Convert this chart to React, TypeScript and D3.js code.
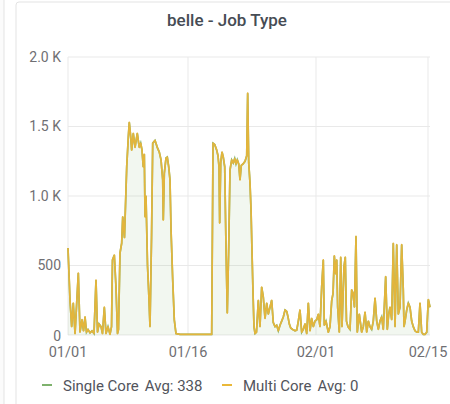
import React from 'react';
import * as d3 from 'd3';

// day offsets from 01/01 and job counts
const dayOffsets = [
  0, 0.25, 0.46, 0.66, 0.88, 1.29, 1.5, 1.75, 1.94, 2.13, 2.31, 2.5, 2.75, 3, 3.25, 3.5, 3.69, 3.88,
  4.13, 4.31, 4.54, 4.75, 5, 5.25, 5.44, 5.56, 5.79, 6, 6.19, 6.31, 6.5, 6.71, 6.84, 7.06, 7.34, 7.54,
  7.66, 7.84, 7.96, 8.16, 8.38, 8.66, 8.91, 9.09, 9.25, 9.41, 9.54, 9.63, 9.75, 9.94, 10.13, 10.25,
  10.44, 10.59, 10.88, 11.16, 11.41, 11.63, 11.84, 11.91, 12.04, 12.25, 12.41, 12.59, 12.75, 12.88,
  13.09, 13.29, 13.5, 14, 15.25, 16.5, 17.96, 18.13, 18.34, 18.59, 18.75, 18.88, 18.96, 19.09, 19.25,
  19.41, 19.59, 19.75, 19.91, 20.09, 20.25, 20.46, 20.66, 20.84, 21, 21.16, 21.34, 21.5, 21.66, 21.88,
  22.13, 22.34, 22.46, 22.59, 22.75, 22.88, 23, 23.13, 23.25, 23.38, 23.56, 23.79, 24, 24.21, 24.41,
  24.63, 24.84, 25.04, 25.25, 25.46, 25.66, 25.88, 26.09, 26.29, 26.5, 26.71, 26.91, 27.13, 27.34,
  27.5, 27.66, 27.84, 28.09, 28.38, 28.59, 28.79, 29, 29.21, 29.41, 29.63, 29.84, 30.04, 30.25, 30.46,
  30.66, 30.88, 31.09, 31.29, 31.5, 31.71, 31.91, 32.04, 32.25, 32.54, 32.75, 32.96, 33.13, 33.29,
  33.46, 33.59, 33.71, 33.91, 34.09, 34.25, 34.5, 34.66, 34.81, 35, 35.25, 35.46, 35.63, 35.81, 36,
  36.16, 36.41, 36.71, 36.91, 37.13, 37.34, 37.54, 37.75, 37.96, 38.16, 38.38, 38.59, 38.79, 39, 39.21,
  39.41, 39.71, 39.91, 40.09, 40.25, 40.46, 40.66, 40.88, 41.09, 41.29, 41.5, 41.71, 41.91, 42, 42.13,
  42.34, 42.54, 42.75, 42.96, 43.16, 43.38, 43.59, 43.79, 44, 44.21, 44.41, 44.63, 44.84, 45.04, 45.25,
];

const singleCore = [
  626, 250, 60, 230, 10, 446, 20, 110, 30, 130, 20, 40, 15, 30, 10, 395, 20, 80,
  60, 10, 200, 10, 60, 5, 60, 540, 575, 345, 10, 40, 590, 660, 850, 700, 1210, 1425,
  1530, 1425, 1330, 1450, 1350, 1450, 1350, 1380, 1330, 1210, 1300, 850, 1000, 500, 250, 60,
  700, 1380, 1400, 1350, 1316, 1260, 1115, 827, 1165, 1273, 1280, 1210, 1115, 755,
  395, 108, 10, 5, 5, 5, 5, 1380, 1370, 1330, 1290, 1210, 805, 1240, 1316,
  1280, 1210, 633, 158, 633, 1187, 1260, 1237, 1270, 1230, 1260, 1230, 1115, 1220, 1230,
  1250, 1290, 1740, 1240, 1093, 900, 600, 300, 60, 10, 20, 250, 60, 345, 275,
  120, 230, 150, 200, 250, 90, 60, 70, 30, 70, 100, 130, 180, 170,
  130, 80, 50, 40, 30, 35, 100, 180, 20, 40, 80, 10, 230, 30, 120,
  60, 100, 110, 150, 60, 345, 540, 70, 100, 20, 60, 245, 300, 570,
  440, 540, 200, 20, 560, 60, 490, 560, 100, 60, 40, 325, 300, 200, 710,
  20, 150, 20, 60, 165, 20, 100, 60, 40, 100, 265, 100, 40, 100, 130,
  40, 420, 40, 150, 200, 110, 660, 60, 650, 150, 200, 650, 325, 60, 100,
  180, 230, 200, 100, 60, 30, 20, 20, 230, 20, 5, 5, 20, 255, 200,
];

// multi core sits at zero, stacked on top of single core
const multiCore = singleCore.map(() => 0);

const yTicks = [0, 500, 1000, 1500, 2000];
const xTickLabels = ['01/01', '01/16', '02/01', '02/15'];
const legendItems = [
  { name: 'Single Core', avg: 'Avg: 338', color: '#7eb26d' },
  { name: 'Multi Core', avg: 'Avg: 0', color: '#eab839' },
];

const start = new Date(2021, 0, 1);
const toDate = (d: number) => new Date(start.getTime() + d * 86400000);

export default function App() {
  const width = 450;
  const height = 404;
  const margin = { top: 57, right: 20, bottom: 69, left: 68 };

  const x = d3
    .scaleTime()
    .domain([start, toDate(45.25)])
    .range([margin.left, width - margin.right]);
  const y = d3
    .scaleLinear()
    .domain([0, 2000])
    .range([height - margin.bottom, margin.top]);

  const rows = dayOffsets.map((d, i) => ({
    date: toDate(d),
    single: singleCore[i],
    multi: multiCore[i],
  }));

  const area = d3
    .area<any>()
    .x((d) => x(d.date))
    .y0(y(0))
    .y1((d) => y(d.single));
  const lineSingle = d3
    .line<any>()
    .x((d) => x(d.date))
    .y((d) => y(d.single));
  const lineMulti = d3
    .line<any>()
    .x((d) => x(d.date))
    .y((d) => y(d.single + d.multi));

  const fmtY = (v: number) => (v >= 1000 ? `${(v / 1000).toFixed(1)} K` : `${v}`);
  const tickDates = xTickLabels.map((l) => d3.timeParse('%Y/%m/%d')(`2021/${l}`)!);

  const font = 'Roboto, "Noto Sans", sans-serif';

  return (
    <svg
      width={width}
      height={height}
      style={{ position: 'absolute', left: 0, top: 0, background: '#fff' }}
      fontFamily={font}
    >
      {/* neighbouring panel edge and panel card */}
      <rect x={-10} y={-2} width={14} height={420} fill="#fbfbfb" stroke="#e3e3e3" />
      <rect x={16} y={2} width={450} height={420} rx={3} fill="#fff" stroke="#e3e3e3" />

      <text x={227} y={26} textAnchor="middle" fontSize={17} fontWeight={500} fill="#464c54">
        belle - Job Type
      </text>

      {/* grid */}
      {yTicks.map((t) => (
        <line
          key={`gy${t}`}
          x1={margin.left}
          x2={width - margin.right}
          y1={y(t)}
          y2={y(t)}
          stroke="#e9e9e9"
        />
      ))}
      {tickDates.map((d, i) => (
        <line key={`gx${i}`} x1={x(d)} x2={x(d)} y1={margin.top} y2={y(0)} stroke="#e9e9e9" />
      ))}

      {/* series */}
      <path d={area(rows)!} fill="#7eb26d" fillOpacity={0.1} />
      <path d={lineSingle(rows)!} fill="none" stroke="#7eb26d" strokeWidth={1.7} />
      <path d={lineMulti(rows)!} fill="none" stroke="#e3b53c" strokeWidth={1.7} strokeLinejoin="round" />

      {/* y axis labels */}
      {yTicks.map((t) => (
        <text
          key={`ty${t}`}
          x={61}
          y={y(t) + (t === 0 ? 6 : 4.5)}
          textAnchor="end"
          fontSize={14}
          fill="#6f6f73"
        >
          {fmtY(t)}
        </text>
      ))}

      {/* x axis labels */}
      {tickDates.map((d, i) => (
        <text key={`tx${i}`} x={x(d)} y={357} textAnchor="middle" fontSize={14.5} fill="#6f6f73">
          {xTickLabels[i]}
        </text>
      ))}

      {/* legend */}
      {legendItems.map((it, i) => {
        const lx = i === 0 ? 42 : 222;
        return (
          <g key={it.name}>
            <line x1={lx} x2={lx + 10} y1={385} y2={385} stroke={it.color} strokeWidth={2} />
            <text x={lx + 21} y={390.5} fontSize={15} fill="#52545c">
              {it.name}
              <tspan dx={6}>{it.avg}</tspan>
            </text>
          </g>
        );
      })}
    </svg>
  );
}
